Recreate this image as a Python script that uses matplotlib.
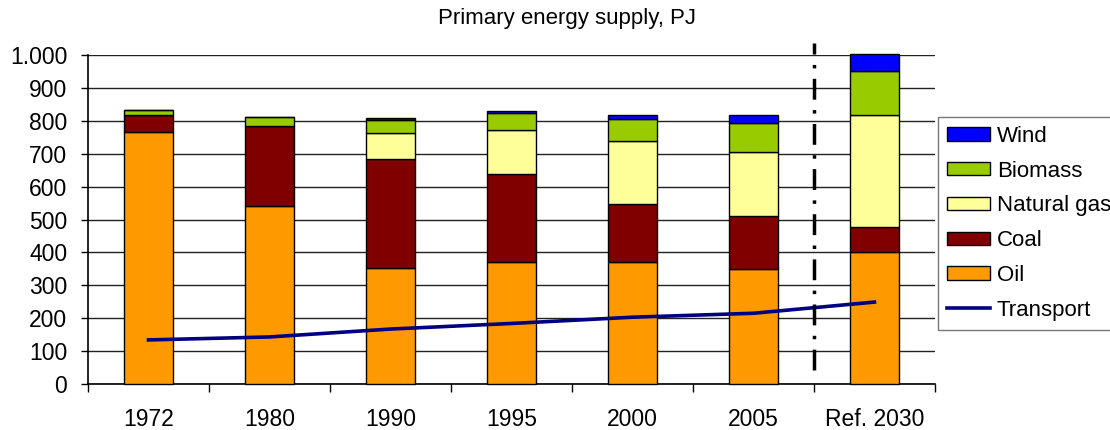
import matplotlib.pyplot as plt
import numpy as np
from matplotlib.patches import Patch
from matplotlib.lines import Line2D

plt.rcParams["font.family"] = ["Liberation Sans", "DejaVu Sans"]

years = ["1972", "1980", "1990", "1995", "2000", "2005", "Ref. 2030"]
oil = [765, 542, 353, 371, 371, 349, 401]
coal = [53, 242, 331, 267, 175, 163, 76]
natural_gas = [0, 0, 78, 133, 194, 193, 341]
biomass = [15, 27, 42, 52, 65, 87, 132]
wind = [0, 0, 5, 6, 13, 26, 53]
transport = [134, 143, 167, 184, 203, 215, 249]

series = [
    ("Oil", oil, "#FF9900"),
    ("Coal", coal, "#800000"),
    ("Natural gas", natural_gas, "#FFFF99"),
    ("Biomass", biomass, "#99CC00"),
    ("Wind", wind, "#0000FF"),
]

fig = plt.figure(figsize=(11.1, 4.3), dpi=100)
ax = fig.add_axes([0.0793, 0.107, 0.7630, 0.765])

x = np.arange(len(years))
bottom = np.zeros(len(years))
for name, vals, color in series:
    vals = np.array(vals, dtype=float)
    ax.bar(x, vals, width=0.4, bottom=bottom, color=color,
           edgecolor="black", linewidth=1.0, zorder=3, clip_on=False)
    bottom += vals

ax.plot(x, transport, color="#000080", linewidth=2.6, zorder=4)

# separator between history and projection
ax.plot([5.5, 5.5], [43, 1036], color="black", linewidth=2.5,
        linestyle=(0, (6, 3, 1, 3)), zorder=5, clip_on=False)

ax.set_xlim(-0.5, len(years) - 0.5)
ax.set_ylim(0, 1000)
ax.set_yticks(np.arange(0, 1001, 100))
ax.set_yticklabels([f"{v:,}".replace(",", ".") for v in range(0, 1001, 100)])
ax.yaxis.grid(True, color="#222222", linewidth=1.0, zorder=0)

ax.set_xticks(np.arange(-0.5, len(years), 1.0))
ax.set_xticklabels([])
ax.set_xticks(x, minor=True)
ax.set_xticklabels(years, minor=True)
ax.tick_params(axis="x", which="major", length=6, width=1, direction="out")
ax.tick_params(axis="x", which="minor", length=0, pad=17, labelsize=16.5)
ax.tick_params(axis="y", length=5, width=1, direction="out", labelsize=16.5, pad=10)

for side in ("top", "right"):
    ax.spines[side].set_visible(False)
for side in ("left", "bottom"):
    ax.spines[side].set_linewidth(1.2)

fig.text(0.511, 0.957, "Primary energy supply, PJ", ha="center", va="center",
         fontsize=16)

handles = [Patch(facecolor=c, edgecolor="black", linewidth=1.0)
           for _, _, c in reversed(series)]
labels = [n for n, _, _ in reversed(series)]
handles.append(Line2D([], [], color="#000080", linewidth=2.6))
labels.append("Transport")
fig.legend(handles, labels, loc="upper left", bbox_to_anchor=(0.845, 0.728),
           fontsize=16, frameon=True, fancybox=False, edgecolor="#555555",
           handlelength=1.95, handleheight=0.55, labelspacing=0.62,
           handletextpad=0.3, borderpad=0.4, borderaxespad=0)

fig.savefig("out.png", dpi=100)
